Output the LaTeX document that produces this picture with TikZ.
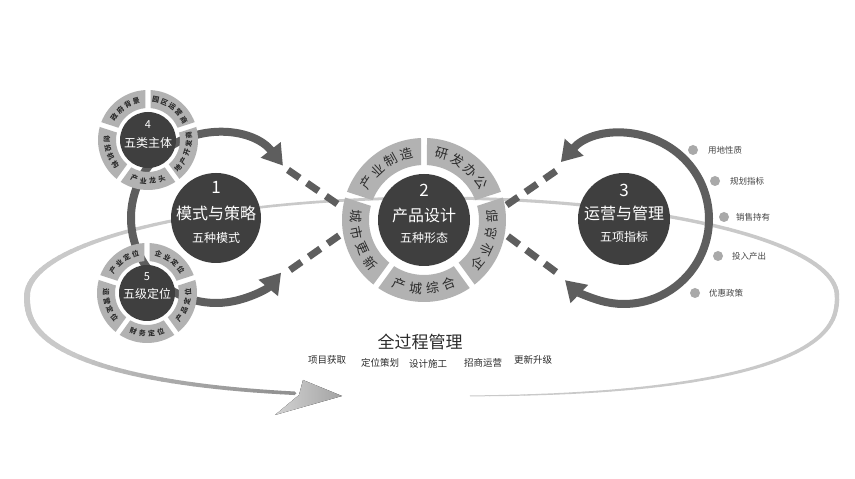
\documentclass[tikz,border=0pt]{standalone}
\usepackage{fontspec}
\setmainfont{Noto Sans CJK SC}
\usetikzlibrary{arrows.meta,calc}
\definecolor{diskc}{HTML}{3F3F3F}
\definecolor{segc}{HTML}{B2B2B2}
\definecolor{segtc}{HTML}{2B2B2B}
\definecolor{arcc}{HTML}{5E5E5E}
\definecolor{dotc}{HTML}{A9A9A9}
\definecolor{labc}{HTML}{444444}
\definecolor{ellc}{HTML}{C9C9C9}
\definecolor{elld}{HTML}{8E8E8E}
% point of the big loop at parameter #1 (degrees)
\newcommand\ellpt[3]{%
  \pgfmathsetmacro\ec{cos(#1)}%
  \pgfmathsetmacro\es{sin(#1)}%
  \ifdim\es pt>0pt
    \pgfmathsetmacro#2{432+405*\ec}%
    \pgfmathsetmacro#3{183+98*\es}%
  \else
    \pgfmathsetmacro\eca{abs(\ec)^0.8}%
    \ifdim\ec pt<0pt \pgfmathsetmacro#2{432-405*\eca}\else\pgfmathsetmacro#2{432+405*\eca}\fi
    \pgfmathsetmacro#3{183-100*abs(\es)^0.8}%
  \fi}
% ring segment: #1 centre, #2 mid angle, #3 inner r, #4 outer r, #5 inner half gap, #6 outer half gap
\newcommand\ringseg[6]{%
  \fill[segc] ([shift={(#2-36+#5:#3pt)}]#1) arc[start angle=#2-36+#5, end angle=#2+36-#5, radius=#3pt]
    -- ([shift={(#2+36-#6:#4pt)}]#1) arc[start angle=#2+36-#6, end angle=#2-36+#6, radius=#4pt] -- cycle;}
% text along a ring: #1 centre, #2 radius, #3 mid angle, #4 step, #5 sign, #6 count, #7 chars, #8 style
\newcommand\segtext[8]{%
  \foreach \ch [count=\i] in {#7} {%
    \pgfmathsetmacro\ang{#3+(#5)*#4*((#6+1)/2-\i)}%
    \pgfmathsetmacro\rot{\ang-(#5)*90}%
    \node[#8, rotate=\rot] (t#1m\i a#3) at ([shift={(\ang:#2pt)}]#1) {\ch};
  }}
\begin{document}
\begin{tikzpicture}[x=1pt,y=1pt,
  disk/.style={circle, fill=diskc, inner sep=0pt, minimum size=#1},
  arcarrow/.style={draw=arcc, line width=8pt, {Triangle[length=20pt,width=24pt]}-{Triangle[length=20pt,width=24pt]}},
  dashline/.style={draw=arcc, line width=7pt, dash pattern=on 14pt off 9pt},
  bigseg/.style={text=segtc, inner sep=0pt, font=\fontsize{13}{13}\selectfont},
  smallseg/.style={text=segtc, inner sep=0pt, font=\bfseries\fontsize{7}{7}\selectfont},
  numt/.style={text=white, inner sep=0pt, font=\fontsize{17}{17}\selectfont},
  maint/.style={text=white, inner sep=0pt, font=\fontsize{16}{16}\selectfont},
  subt/.style={text=white, inner sep=0pt, font=\fontsize{12}{12}\selectfont},
  snumt/.style={text=white, inner sep=0pt, font=\fontsize{11}{11}\selectfont},
  smaint/.style={text=white, inner sep=0pt, font=\fontsize{12}{12}\selectfont},
  dot/.style={circle, fill=dotc, inner sep=0pt, minimum size=10pt},
  lab/.style={text=labc, anchor=west, inner sep=0pt, font=\fontsize{8.5}{9}\selectfont},
  bl/.style={text=segtc, inner sep=0pt, font=\fontsize{9.5}{10}\selectfont}
]
\useasboundingbox (0,0) rectangle (855,479);
\fill[white] (0,0) rectangle (855,479);

% centres
\coordinate (o1) at (216,261);
\coordinate (o2) at (424,259);
\coordinate (o3) at (624,260);
\coordinate (o4) at (148,339);
\coordinate (o5) at (147,186);

% big loop (full process)
\foreach \t in {273,275,...,613} {
  \ellpt{\t}{\xa}{\ya}
  \pgfmathsetmacro\tb{\t+2}
  \ellpt{\tb}{\xb}{\yb}
  \ifnum\t<300 \pgfmathsetmacro\w{1+(\t-273)*1.5/27}%
  \else\ifnum\t<360 \pgfmathsetmacro\w{2.5+(\t-300)*2/60}%
  \else\ifnum\t<400 \pgfmathsetmacro\w{4.5-(\t-360)/40}%
  \else\ifnum\t<480 \pgfmathsetmacro\w{3.5-(\t-400)/80}%
  \else\ifnum\t<540 \pgfmathsetmacro\w{2.5+(\t-480)*3.5/60}%
  \else\ifnum\t<580 \pgfmathsetmacro\w{6-(\t-540)*1.5/40}%
  \else \pgfmathsetmacro\w{4.5-(\t-580)/35}%
  \fi\fi\fi\fi\fi\fi
  \ifnum\t<570 \def\p{0}\else \pgfmathtruncatemacro\p{(\t-570)*100/45}\fi
  \draw[line width=\w pt, line cap=round, color=elld!\p!ellc] (\xa,\ya) -- (\xb,\yb);
}
% loop arrowhead
\fill[left color=gray!35, right color=gray!72] (303,99) -- (342,83) -- (275,64) -- (299,84) -- cycle;

% curved arrows
\draw[arcarrow] ([shift={(38:85pt)}]o1) arc[start angle=38, end angle=320, radius=85pt];
\draw[arcarrow] ([shift={(138:85pt)}]o3) arc[start angle=138, end angle=-134, radius=85pt];

% dashed links
\coordinate (a1) at (288,309); \coordinate (b1) at (352,265);
\coordinate (a2) at (290,209); \coordinate (b2) at (350,251);
\coordinate (a3) at (556,308); \coordinate (b3) at (498,268);
\coordinate (a4) at (556,207); \coordinate (b4) at (498,250);
\draw[dashline] (a1) -- (b1);
\draw[dashline] (a2) -- (b2);
\draw[dashline] (a3) -- (b3);
\draw[dashline] (a4) -- (b4);

% rings
\foreach \m in {126,54,-18,-90,198} {
  \ringseg{o2}{\m}{55}{82}{3.1}{2.1}
  \ringseg{o4}{\m}{32}{50}{4.5}{2.9}
  \ringseg{o5}{\m}{32}{50}{4.5}{2.9}
}

% disks
\node[disk=90pt] (d1) at (o1) {};
\node[disk=92pt] (d2) at (o2) {};
\node[disk=92pt] (d3) at (o3) {};
\node[disk=56pt] (d4) at (o4) {};
\node[disk=56pt] (d5) at (o5) {};

% disk texts
\node[numt] (n1) at ([yshift=31pt]o1) {1};
\node[maint] (m1) at ([yshift=5pt]o1) {模式与策略};
\node[subt] (s1) at ([yshift=-20pt]o1) {五种模式};
\node[numt] (n2) at ([yshift=30pt]o2) {2};
\node[maint] (m2) at ([yshift=5pt]o2) {产品设计};
\node[subt] (s2) at ([yshift=-18pt]o2) {五种形态};
\node[numt] (n3) at ([yshift=29pt]o3) {3};
\node[maint] (m3) at ([yshift=6pt]o3) {运营与管理};
\node[subt] (s3) at ([yshift=-18pt]o3) {五项指标};
\node[snumt] (n4) at ([yshift=15pt]o4) {4};
\node[smaint] (m4) at ([yshift=-3pt]o4) {五类主体};
\node[snumt] (n5) at ([yshift=16pt]o5) {5};
\node[smaint] (m5) at ([yshift=-1pt]o5) {五级定位};

% ring texts, circle 2
\segtext{o2}{68.5}{126}{14}{1}{4}{产,业,制,造}{bigseg}
\segtext{o2}{68.5}{54}{14}{1}{4}{研,发,办,公}{bigseg}
\segtext{o2}{68.5}{-18}{14}{-1}{4}{企,业,总,部}{bigseg}
\segtext{o2}{68.5}{-90}{14}{-1}{4}{产,城,综,合}{bigseg}
\segtext{o2}{68.5}{198}{14}{-1}{4}{城,市,更,新}{bigseg}
% circle 4
\segtext{o4}{41}{126}{13}{1}{4}{政,府,背,景}{smallseg}
\segtext{o4}{41}{54}{12.5}{1}{5}{园,区,运,营,商}{smallseg}
\segtext{o4}{41}{-18}{12.5}{-1}{5}{地,产,开,发,商}{smallseg}
\segtext{o4}{41}{-90}{13}{-1}{4}{产,业,龙,头}{smallseg}
\segtext{o4}{41}{198}{13}{-1}{4}{创,投,机,构}{smallseg}
% circle 5
\segtext{o5}{41}{126}{13}{1}{4}{产,业,定,位}{smallseg}
\segtext{o5}{41}{54}{13}{1}{4}{企,业,定,位}{smallseg}
\segtext{o5}{41}{-18}{13}{-1}{4}{产,品,定,位}{smallseg}
\segtext{o5}{41}{-90}{13}{-1}{4}{财,务,定,位}{smallseg}
\segtext{o5}{41}{198}{13}{-1}{4}{运,营,定,位}{smallseg}

% right indicators
\node[dot] (p1) at (693,329) {}; \node[lab] (q1) at (708,329) {用地性质};
\node[dot] (p2) at (715,298) {}; \node[lab] (q2) at (730,298) {规划指标};
\node[dot] (p3) at (724,262) {}; \node[lab] (q3) at (736,262) {销售持有};
\node[dot] (p4) at (718,223) {}; \node[lab] (q4) at (732,223) {投入产出};
\node[dot] (p5) at (695,186) {}; \node[lab] (q5) at (709,186) {优惠政策};

% bottom texts
\node[text=segtc, inner sep=0pt, font=\fontsize{17}{17}\selectfont] (tt) at (420,137) {全过程管理};
\node[bl] (u1) at (327,119) {项目获取};
\node[bl] (u2) at (380,116) {定位策划};
\node[bl] (u3) at (428,115) {设计施工};
\node[bl] (u4) at (483,116) {招商运营};
\node[bl] (u5) at (533,119) {更新升级};
\end{tikzpicture}
\end{document}
